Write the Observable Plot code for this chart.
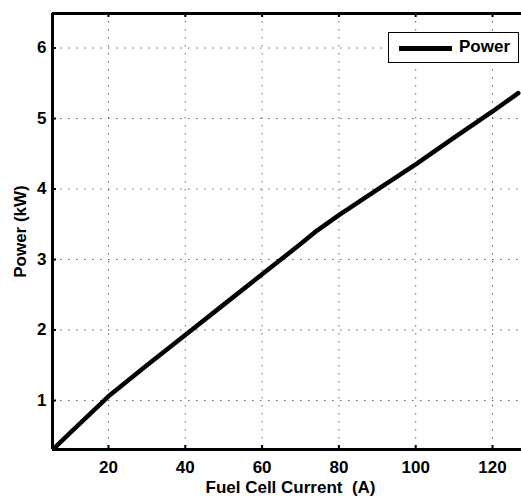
<!DOCTYPE html>
<html><head><meta charset="utf-8">
<script src="https://cdn.jsdelivr.net/npm/d3@7"></script>
<script src="https://cdn.jsdelivr.net/npm/@observablehq/plot@0.6"></script>
<style>
html,body{margin:0;padding:0;background:#fff;}
#wrap{position:relative;width:521px;height:498px;overflow:hidden;}
#legend{position:absolute;left:388px;top:32px;width:129px;height:29px;border:1px solid #000;background:#fff;font:bold 17px "Liberation Sans",Arial,sans-serif;color:#000;}
#legend .swatch{position:absolute;left:10px;top:13px;width:53px;height:5px;background:#000;}
#legend .lab{position:absolute;left:70px;top:4px;line-height:20px;}
</style>
</head><body>
<div id="wrap"></div>
<script>
const current = [5.4, 10, 20, 30, 40, 50, 60, 70, 74.3, 80, 90, 100, 110, 120, 126.7];
const power   = [0.30, 0.54, 1.06, 1.50, 1.93, 2.36, 2.79, 3.22, 3.41, 3.63, 3.99, 4.35, 4.73, 5.10, 5.36];
const xTicks = [20, 40, 60, 80, 100, 120];
const yTicks = [1, 2, 3, 4, 5, 6];
const xDomain = [5.42, 127.55];
const yDomain = [0.305, 6.49];
const xLabel = "Fuel Cell Current\u00a0 (A)";
const yLabel = "Power (kW)";
const seriesName = "Power";

const data = current.map((c, i) => ({current: c, power: power[i]}));

const W = 521, H = 498, mL = 52, mR = 0, mT = 13, mB = 49;
const innerH = H - mT - mB, innerW = W - mL - mR;
const font = '"Liberation Sans", Arial, Helvetica, sans-serif';

const chart = Plot.plot({
  width: W, height: H,
  marginLeft: mL, marginRight: mR, marginTop: mT, marginBottom: mB,
  x: {domain: xDomain},
  y: {domain: yDomain},
  style: {fontFamily: font, fontWeight: "bold", fontSize: "17px", color: "#000", background: "#fff", overflow: "visible"},
  marks: [
    Plot.gridX(xTicks, {stroke: "#666", strokeOpacity: 1, strokeWidth: 1, strokeDasharray: "1.5,6.5"}),
    Plot.gridY(yTicks, {stroke: "#666", strokeOpacity: 1, strokeWidth: 1, strokeDasharray: "1.5,6.5"}),
    Plot.tickX(xTicks, {x: d => d, insetTop: innerH - 4, stroke: "#000", strokeWidth: 2}),
    Plot.tickX(xTicks, {x: d => d, insetBottom: innerH - 4, stroke: "#000", strokeWidth: 2}),
    Plot.tickY(yTicks, {y: d => d, insetRight: innerW - 4, stroke: "#000", strokeWidth: 2}),
    Plot.axisX(xTicks, {tickSize: 0, tickPadding: 11, fontSize: 17, fontWeight: "bold", label: null, tickFormat: d => String(d)}),
    Plot.axisY(yTicks, {tickSize: 0, tickPadding: 6, fontSize: 17, fontWeight: "bold", label: null, tickFormat: d => String(d)}),
    Plot.line(data, {x: "current", y: "power", stroke: "#000", strokeWidth: 4.5, clip: true}),
    Plot.ruleX([xDomain[0]], {stroke: "#000", strokeWidth: 3}),
    Plot.ruleY([yDomain[0]], {stroke: "#000", strokeWidth: 3}),
    Plot.ruleY([yDomain[1]], {stroke: "#000", strokeWidth: 3}),
    Plot.text([xLabel], {text: d => d, frameAnchor: "bottom", textAnchor: "middle", dx: 3.5, dy: 38, lineAnchor: "middle", fontSize: 17, fontWeight: "bold"}),
    Plot.text([yLabel], {text: d => d, frameAnchor: "left", textAnchor: "middle", dx: -32, dy: 0, rotate: -90, lineAnchor: "middle", fontSize: 17, fontWeight: "bold"})
  ]
});

const wrap = document.getElementById("wrap");
wrap.appendChild(chart);
const legend = document.createElement("div");
legend.id = "legend";
legend.innerHTML = '<div class="swatch"></div><div class="lab"></div>';
legend.querySelector(".lab").textContent = seriesName;
wrap.appendChild(legend);
</script>
</body></html>
